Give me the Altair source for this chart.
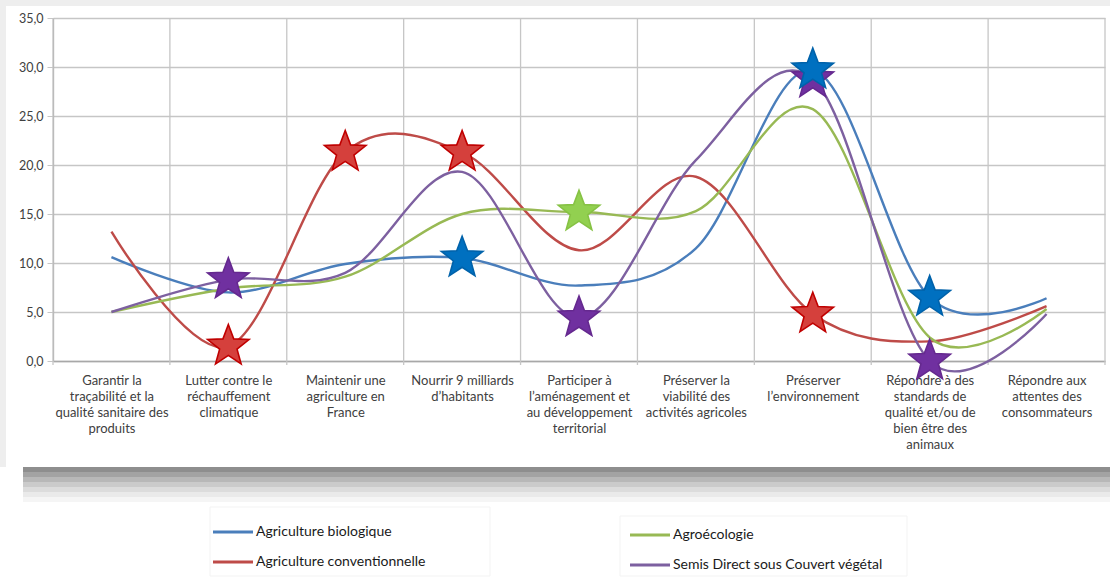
import json
import math
import altair as alt
import pandas as pd

# Categories (line breaks marked with "|")
categories = [
    "Garantir la|traçabilité et la|qualité sanitaire des|produits",
    "Lutter contre le|réchauffement|climatique",
    "Maintenir une|agriculture en|France",
    "Nourrir 9 milliards|d’habitants",
    "Participer à|l’aménagement et|au développement|territorial",
    "Préserver la|viabilité des|activités agricoles",
    "Préserver|l’environnement",
    "Répondre à des|standards de|qualité et/ou de|bien être des|animaux",
    "Répondre aux|attentes des|consommateurs",
]

series_names = [
    "Agriculture biologique",
    "Agriculture conventionnelle",
    "Agroécologie",
    "Semis Direct sous Couvert végétal",
]

bio = [10.6, 7.0, 9.9, 10.5, 7.7, 11.5, 29.7, 6.5, 6.4]
conv = [13.2, 1.5, 21.3, 21.3, 11.3, 18.8, 4.8, 2.0, 5.6]
agro = [5.0, 7.4, 8.6, 15.0, 15.2, 15.3, 25.7, 2.4, 5.3]
semis = [5.0, 8.3, 9.0, 19.3, 4.4, 20.5, 28.8, 0.0, 4.8]

# Highlighted points (category indices) per series
bio_stars = [3, 6, 7]
conv_stars = [1, 2, 3, 6]
agro_stars = [4]
semis_stars = [1, 4, 6, 7]

line_colors = ["#4A7EBB", "#BE4B48", "#98B954", "#7D60A0"]
star_fill = ["#0070C0", "#D5403C", "#92D050", "#7030A0"]
star_edge = ["#0062AA", "#C00000", "#86C244", "#65298F"]

all_values = [bio, conv, agro, semis]
all_stars = [bio_stars, conv_stars, agro_stars, semis_stars]

rows = []
for name, vals in zip(series_names, all_values):
    for i, v in enumerate(vals):
        rows.append({"idx": i, "valeur": v, "serie": name})
lines_df = pd.DataFrame(rows)

n = len(categories)
# category boundaries for the vertical grid
bounds_df = pd.DataFrame({"limite": [i - 0.5 for i in range(n + 1)]})

FONT = "Lato"
GRID = "#c6c6c6"

# five-pointed star as a custom symbol path in the unit square
star_pts = []
for k in range(10):
    r = 1.0 if k % 2 == 0 else 0.42
    a = math.radians(-90 + 36 * k)
    star_pts.append("{:.4f},{:.4f}".format(r * math.cos(a), r * math.sin(a)))
STAR_PATH = "M" + " L".join(star_pts) + " Z"

label_list = json.dumps(categories, ensure_ascii=False)

lines = alt.Chart(lines_df).mark_line(interpolate="cardinal", strokeWidth=2.4).encode(
    x=alt.X(
        "idx:Q",
        scale=alt.Scale(domain=[-0.5, n - 0.5], nice=False, zero=False),
        axis=alt.Axis(
            title=None,
            values=list(range(n)),
            labelExpr="split(" + label_list + "[datum.value], '|')",
            labelAngle=0,
            labelPadding=13,
            labelLineHeight=16,
            labelFontSize=13,
            ticks=False,
            grid=False,
        ),
    ),
    y=alt.Y(
        "valeur:Q",
        scale=alt.Scale(domain=[0, 35], nice=False),
        axis=alt.Axis(
            title=None,
            values=[0, 5, 10, 15, 20, 25, 30, 35],
            labelExpr="replace(format(datum.value, '.1f'), '.', ',')",
            tickSize=6,
            labelPadding=4,
        ),
    ),
    color=alt.Color("serie:N", scale=alt.Scale(domain=series_names, range=line_colors), legend=None),
)

vgrid = alt.Chart(bounds_df).mark_rule(color=GRID, strokeWidth=1.3).encode(
    x=alt.X("limite:Q"),
    y=alt.value(0),
    y2=alt.value(347),
)

# star markers, one layer per series (blue drawn last)
star_layers = []
for s in [3, 1, 2, 0]:
    vals, idx = all_values[s], all_stars[s]
    sdf = pd.DataFrame({"idx": idx, "valeur": [vals[k] for k in idx]})
    star_layers.append(
        alt.Chart(sdf).mark_point(
            shape=STAR_PATH, size=1900, filled=True, opacity=1,
            fill=star_fill[s], stroke=star_edge[s], strokeWidth=1.6,
        ).encode(x=alt.X("idx:Q"), y=alt.Y("valeur:Q"))
    )

deco = pd.DataFrame({"k": [0]})

# frame: light grey margin and soft shadow under the panel
frame_layers = [
    alt.Chart(deco).mark_rect(color="#eeeeee").encode(
        x=alt.value(-53), x2=alt.value(1057), y=alt.value(-18), y2=alt.value(-12)),
    alt.Chart(deco).mark_rect(color="#eeeeee").encode(
        x=alt.value(-53), x2=alt.value(-47), y=alt.value(-18), y2=alt.value(449)),
]
shadow_tones = ["#8e8e8e", "#a3a3a3", "#b8b8b8", "#cbcbcb", "#dcdcdc", "#eaeaea", "#f5f5f5"]
for k, tone in enumerate(shadow_tones):
    frame_layers.append(
        alt.Chart(deco).mark_rect(color=tone).encode(
            x=alt.value(-30), x2=alt.value(1057),
            y=alt.value(449 + 5 * k), y2=alt.value(454 + 5 * k))
    )

# legend: two columns, each in a faint box
legend_layers = [
    alt.Chart(deco).mark_rect(fill="#ffffff", stroke="#f3f3f3", strokeWidth=1).encode(
        x=alt.value(157), x2=alt.value(437), y=alt.value(489), y2=alt.value(558)),
    alt.Chart(deco).mark_rect(fill="#ffffff", stroke="#f3f3f3", strokeWidth=1).encode(
        x=alt.value(567), x2=alt.value(854), y=alt.value(498), y2=alt.value(558)),
]
legend_slots = [(0, 0), (0, 1), (1, 0), (1, 1)]  # (column, row) for each series
for s, (name, (col, row)) in enumerate(zip(series_names, legend_slots)):
    x0 = 160 + 417 * col
    y0 = 514 + 3 * col + 30 * row
    legend_layers.append(
        alt.Chart(deco).mark_rule(color=line_colors[s], strokeWidth=3).encode(
            x=alt.value(x0), x2=alt.value(x0 + 40), y=alt.value(y0))
    )
    legend_layers.append(
        alt.Chart(deco).mark_text(
            text=name, align="left", baseline="middle", font=FONT, fontSize=14, color="#1a1a1a"
        ).encode(x=alt.value(x0 + 43), y=alt.value(y0))
    )

chart = alt.layer(
    *frame_layers, vgrid, lines, *star_layers, *legend_layers
).properties(
    width=1052,
    height=343,
).configure(
    padding=0,
).configure_view(
    strokeWidth=0,
).configure_axis(
    labelFont=FONT,
    labelFontSize=12.5,
    labelColor="#404040",
    gridColor=GRID,
    gridWidth=1.3,
    tickColor=GRID,
    domainColor="#a8a8a8",
    domainWidth=1.3,
)

chart.save("out.html", embed_options={"renderer": "svg", "actions": False})
